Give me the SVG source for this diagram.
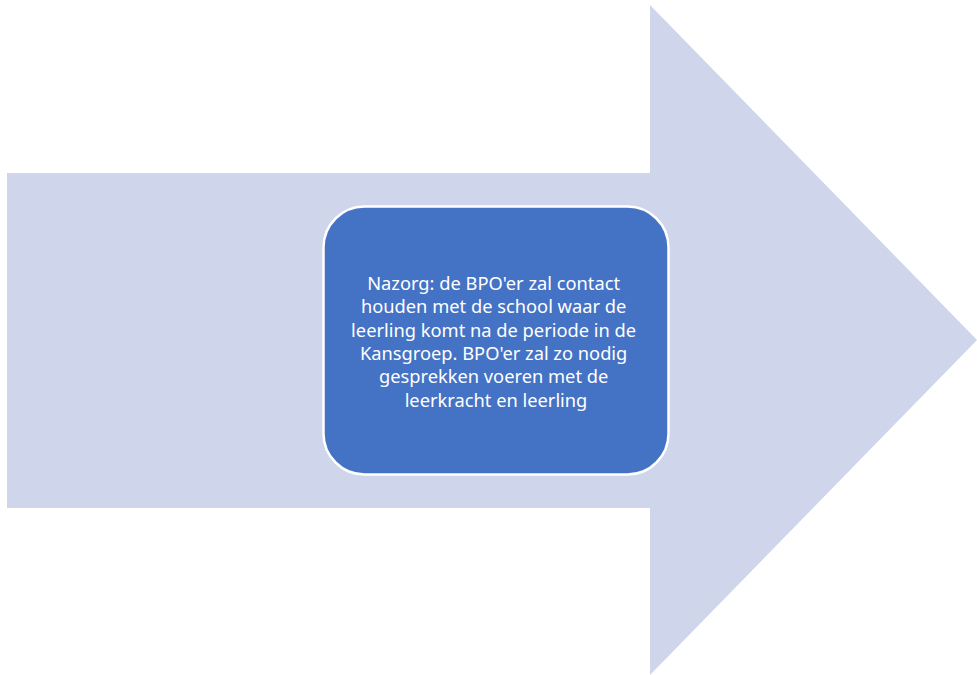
<svg xmlns="http://www.w3.org/2000/svg" width="977" height="675" viewBox="0 0 977 675">
<style>
.arrow{fill:#CFD5EA;stroke:none}
.box{fill:#4472C4;stroke:#FFFFFF;stroke-width:2.5}
.lbl{font-family:"Noto Sans","Open Sans","Liberation Sans",sans-serif;font-size:18.3px;fill:#FFFFFF;text-anchor:middle}
</style>
<rect width="977" height="675" fill="#FFFFFF"/>
<g id="arrow">
<polygon class="arrow" points="7,173 650,173 650,5 977,340 650,675 650,508 7,508"/>
</g>
<g id="node-nazorg">
<rect class="box" x="323.5" y="206.5" width="345" height="268" rx="41" ry="41"/>
<text class="lbl">
<tspan x="496" y="290">Nazorg: de BPO'er zal contact</tspan>
<tspan x="496" y="313.3">houden met de school waar de</tspan>
<tspan x="496" y="336.6">leerling komt na de periode in de</tspan>
<tspan x="496" y="359.9">Kansgroep. BPO'er zal zo nodig</tspan>
<tspan x="496" y="383.2">gesprekken voeren met de</tspan>
<tspan x="496" y="406.5">leerkracht en leerling</tspan>
</text>
</g>
<g id="connectors"></g>
</svg>
